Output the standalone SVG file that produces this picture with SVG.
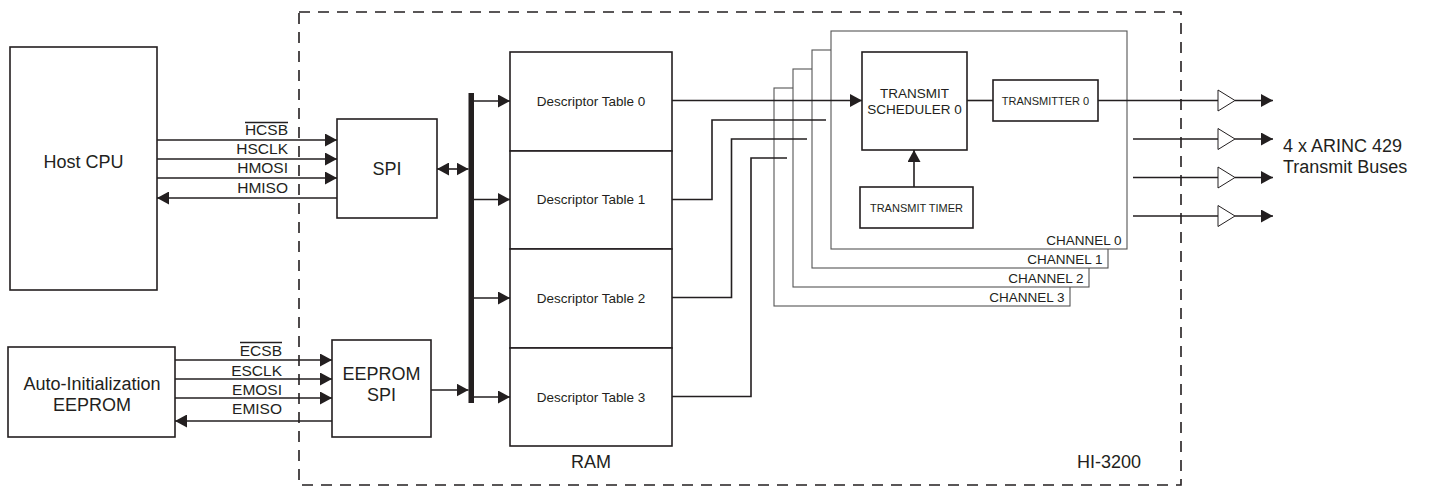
<svg xmlns="http://www.w3.org/2000/svg" width="1431" height="487" viewBox="0 0 1431 487">
<style>
.box{fill:#fff;stroke:#231f20;stroke-width:1.6}
.ch{fill:#fff;stroke:#555;stroke-width:1.1}
.ln{fill:none;stroke:#231f20;stroke-width:1.6}
.t{font-family:"Liberation Sans",Arial,sans-serif;fill:#231f20}
.big{font-size:18px}
.sig{font-size:15.5px}
.mid{font-size:13.5px}
.sm{font-size:11px}
.dash{fill:none;stroke:#231f20;stroke-width:1.6;stroke-dasharray:11 8}
.buf{fill:#fff;stroke:#231f20;stroke-width:1}
</style>
<defs>
<marker id="ah" viewBox="0 0 12 13" refX="12" refY="6.5" markerWidth="12" markerHeight="13" markerUnits="userSpaceOnUse" orient="auto-start-reverse">
<path d="M0,0 L12,6.5 L0,13 Z" fill="#231f20"/>
</marker>
</defs>

<rect class="dash" x="299" y="12" width="882" height="473"/>

<g id="host-cpu">
<rect class="box" x="10" y="47" width="147" height="243"/>
<text class="t big" x="83.5" y="168" text-anchor="middle">Host CPU</text>
</g>
<g id="auto-init-eeprom">
<rect class="box" x="8" y="347" width="167" height="90"/>
<text class="t big" x="92" y="390" text-anchor="middle">Auto-Initialization</text>
<text class="t big" x="92" y="411" text-anchor="middle">EEPROM</text>
</g>
<g id="spi">
<rect class="box" x="337" y="119" width="100" height="99"/>
<text class="t big" x="387" y="175" text-anchor="middle">SPI</text>
</g>
<g id="eeprom-spi">
<rect class="box" x="332" y="340" width="99" height="97"/>
<text class="t big" x="381.5" y="380" text-anchor="middle">EEPROM</text>
<text class="t big" x="381.5" y="401" text-anchor="middle">SPI</text>
</g>
<g id="ram">
<rect class="box" x="510" y="52" width="162" height="99"/>
<rect class="box" x="510" y="151" width="162" height="98"/>
<rect class="box" x="510" y="249" width="162" height="99"/>
<rect class="box" x="510" y="348" width="162" height="98"/>
<text class="t mid" x="591" y="105.5" text-anchor="middle">Descriptor Table 0</text>
<text class="t mid" x="591" y="204" text-anchor="middle">Descriptor Table 1</text>
<text class="t mid" x="591" y="303" text-anchor="middle">Descriptor Table 2</text>
<text class="t mid" x="591" y="402" text-anchor="middle">Descriptor Table 3</text>
<text class="t big" x="591" y="468" text-anchor="middle">RAM</text>
</g>
<g id="channel-3">
<rect class="ch" x="774" y="88" width="296" height="218"/>
<text class="t mid" x="1064.5" y="302" text-anchor="end">CHANNEL 3</text>
</g>
<g id="channel-2">
<rect class="ch" x="793" y="69" width="296" height="218"/>
<text class="t mid" x="1083.5" y="283" text-anchor="end">CHANNEL 2</text>
</g>
<g id="channel-1">
<rect class="ch" x="812" y="50" width="296" height="218"/>
<text class="t mid" x="1102.5" y="263.5" text-anchor="end">CHANNEL 1</text>
</g>
<g id="channel-0">
<rect class="ch" x="831" y="31" width="296" height="218"/>
<text class="t mid" x="1121.5" y="244.5" text-anchor="end">CHANNEL 0</text>
</g>
<g id="transmit-scheduler-0">
<rect class="box" x="862" y="52" width="105" height="98"/>
<text class="t mid" x="914.5" y="98" text-anchor="middle">TRANSMIT</text>
<text class="t mid" x="914.5" y="114" text-anchor="middle">SCHEDULER 0</text>
</g>
<g id="transmitter-0">
<rect class="box" x="993" y="80" width="105" height="41"/>
<text class="t sm" x="1045.5" y="105" text-anchor="middle">TRANSMITTER 0</text>
</g>
<g id="transmit-timer">
<rect class="box" x="860" y="187" width="113" height="41"/>
<text class="t sm" x="916.5" y="212" text-anchor="middle">TRANSMIT TIMER</text>
</g>
<g id="hi-3200-label">
<text class="t big" x="1141" y="468" text-anchor="end">HI-3200</text>
</g>
<g id="arinc-label">
<text class="t big" x="1283" y="152">4 x ARINC 429</text>
<text class="t big" x="1283" y="173">Transmit Buses</text>
</g>
<g id="buffers">
<path class="buf" d="M1218,90 L1218,111 L1235,100.5 Z"/>
<path class="buf" d="M1218,128.5 L1218,149.5 L1235,139 Z"/>
<path class="buf" d="M1218,167 L1218,188 L1235,177.5 Z"/>
<path class="buf" d="M1218,205.5 L1218,226.5 L1235,216 Z"/>
</g>

<g id="connectors">
<!-- host signals -->
<line class="ln" x1="157" y1="140" x2="337" y2="140" marker-end="url(#ah)"/>
<line class="ln" x1="157" y1="159" x2="337" y2="159" marker-end="url(#ah)"/>
<line class="ln" x1="157" y1="178" x2="337" y2="178" marker-end="url(#ah)"/>
<line class="ln" x1="337" y1="198" x2="157" y2="198" marker-end="url(#ah)"/>
<text class="t sig" x="288" y="135" text-anchor="end">HCSB</text>
<line x1="245" y1="122.5" x2="288" y2="122.5" stroke="#231f20" stroke-width="1.4"/>
<text class="t sig" x="288" y="154" text-anchor="end">HSCLK</text>
<text class="t sig" x="288" y="173" text-anchor="end">HMOSI</text>
<text class="t sig" x="288" y="192.5" text-anchor="end">HMISO</text>
<!-- eeprom signals -->
<line class="ln" x1="175" y1="360" x2="332" y2="360" marker-end="url(#ah)"/>
<line class="ln" x1="175" y1="379" x2="332" y2="379" marker-end="url(#ah)"/>
<line class="ln" x1="175" y1="398" x2="332" y2="398" marker-end="url(#ah)"/>
<line class="ln" x1="332" y1="421" x2="175" y2="421" marker-end="url(#ah)"/>
<text class="t sig" x="282" y="356" text-anchor="end">ECSB</text>
<line x1="240" y1="342.5" x2="282" y2="342.5" stroke="#231f20" stroke-width="1.4"/>
<text class="t sig" x="282" y="375.5" text-anchor="end">ESCLK</text>
<text class="t sig" x="282" y="394.5" text-anchor="end">EMOSI</text>
<text class="t sig" x="282" y="414" text-anchor="end">EMISO</text>
<!-- bus -->
<rect x="468.5" y="93" width="5.5" height="310" fill="#231f20"/>
<line class="ln" x1="437" y1="169" x2="468.5" y2="169" marker-start="url(#ah)" marker-end="url(#ah)"/>
<line class="ln" x1="431" y1="390" x2="468.5" y2="390" marker-end="url(#ah)"/>
<line class="ln" x1="474" y1="101" x2="510" y2="101" marker-end="url(#ah)"/>
<line class="ln" x1="474" y1="199.5" x2="510" y2="199.5" marker-end="url(#ah)"/>
<line class="ln" x1="474" y1="298" x2="510" y2="298" marker-end="url(#ah)"/>
<line class="ln" x1="474" y1="397" x2="510" y2="397" marker-end="url(#ah)"/>
<!-- ram to channels -->
<line class="ln" x1="672" y1="100.5" x2="862" y2="100.5" marker-end="url(#ah)"/>
<polyline class="ln" points="672,199.5 712,199.5 712,120 826,120"/>
<polyline class="ln" points="672,297.5 731.5,297.5 731.5,139 807,139"/>
<polyline class="ln" points="672,396.5 751,396.5 751,158 787,158"/>
<!-- inside channel -->
<line class="ln" x1="967" y1="100.5" x2="993" y2="100.5"/>
<line class="ln" x1="914" y1="187" x2="914" y2="150" marker-end="url(#ah)"/>
<!-- outputs -->
<line class="ln" x1="1098" y1="100.5" x2="1218" y2="100.5"/>
<line class="ln" x1="1133" y1="139" x2="1218" y2="139"/>
<line class="ln" x1="1133" y1="177.5" x2="1218" y2="177.5"/>
<line class="ln" x1="1133" y1="216" x2="1218" y2="216"/>
<line class="ln" x1="1235" y1="100.5" x2="1273" y2="100.5" marker-end="url(#ah)"/>
<line class="ln" x1="1235" y1="139" x2="1273" y2="139" marker-end="url(#ah)"/>
<line class="ln" x1="1235" y1="177.5" x2="1273" y2="177.5" marker-end="url(#ah)"/>
<line class="ln" x1="1235" y1="216" x2="1273" y2="216" marker-end="url(#ah)"/>
</g>
</svg>
